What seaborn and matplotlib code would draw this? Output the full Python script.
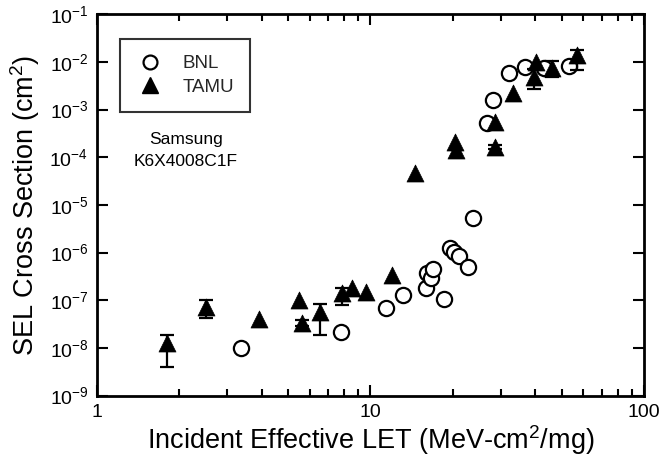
import matplotlib
matplotlib.use("Agg")
import matplotlib.pyplot as plt
from matplotlib.lines import Line2D
from matplotlib.ticker import LogLocator, LogFormatterSciNotation, FixedLocator, FixedFormatter, NullFormatter
import numpy as np
import pandas as pd
import seaborn as sns

# BNL heavy-ion results
bnl_let = [3.37, 7.8, 11.4, 13.2, 15.9, 16.1, 16.6, 17.0, 18.5, 19.5,
           20.2, 21.0, 22.7, 23.8, 26.7, 28.1, 32.0, 36.8, 43.0, 53.0]
bnl_xs = [1.0e-8, 2.1e-8, 6.8e-8, 1.3e-7, 1.8e-7, 3.7e-7, 2.9e-7, 4.5e-7, 1.04e-7, 1.23e-6,
          1.04e-6, 8.5e-7, 4.9e-7, 5.3e-6, 5.2e-4, 1.6e-3, 5.8e-3, 7.9e-3, 7.4e-3, 8.2e-3]

# TAMU heavy-ion results (NaN bounds = no error bar)
tamu_let = [1.81, 2.50, 3.91, 5.47, 5.6, 6.53, 7.9, 8.6, 9.6, 12.0,
            14.6, 20.3, 20.6, 28.6, 28.6, 33.2, 40.4, 39.6, 46.1, 56.7]
tamu_xs = [1.25e-8, 7.1e-8, 4.0e-8, 1.0e-7, 3.3e-8, 5.7e-8, 1.4e-7, 1.78e-7, 1.5e-7, 3.4e-7,
           4.7e-5, 2.1e-4, 1.42e-4, 5.6e-4, 1.66e-4, 2.26e-3, 1.0e-2, 4.9e-3, 7.4e-3, 1.4e-2]
tamu_lo = [4.0e-9, 4.2e-8, np.nan, np.nan, 2.9e-8, 1.9e-8, 7.9e-8, np.nan, np.nan, np.nan,
           np.nan, np.nan, np.nan, np.nan, 1.5e-4, np.nan, np.nan, 2.7e-3, 4.9e-3, 6.8e-3]
tamu_hi = [1.9e-8, 9.95e-8, np.nan, np.nan, 3.8e-8, 8.3e-8, 1.78e-7, np.nan, np.nan, np.nan,
           np.nan, np.nan, np.nan, np.nan, 1.85e-4, np.nan, np.nan, 7.0e-3, 1.05e-2, 1.78e-2]

x_ticks = [1, 10, 100]
x_tick_labels = ["1", "10", "100"]

sns.set_theme(style="ticks")
plt.rcParams["font.family"] = ["Liberation Sans", "DejaVu Sans"]
plt.rcParams["mathtext.fontset"] = "custom"
plt.rcParams["mathtext.rm"] = "Liberation Sans"

fig = plt.figure(figsize=(6.62, 4.67), dpi=100)
ax = fig.add_axes([0.1461, 0.1531, 0.8269, 0.8163])

bnl = pd.DataFrame({"let": bnl_let, "xs": bnl_xs})
tamu = pd.DataFrame({"let": tamu_let, "xs": tamu_xs, "lo": tamu_lo, "hi": tamu_hi})

sns.scatterplot(data=bnl, x="let", y="xs", ax=ax, marker="o", s=120,
                facecolor="white", edgecolor="black", linewidth=1.6, zorder=3)

eb = tamu.dropna()
ax.errorbar(eb["let"], eb["xs"],
            yerr=[eb["xs"] - eb["lo"], eb["hi"] - eb["xs"]],
            fmt="none", ecolor="black", elinewidth=1.6, capsize=5, capthick=1.6, zorder=4)
sns.scatterplot(data=tamu, x="let", y="xs", ax=ax, marker="^", s=150,
                color="black", edgecolor="black", linewidth=0.5, zorder=5)

ax.set_xscale("log")
ax.set_yscale("log")
ax.set_xlim(1, 100)
ax.set_ylim(1e-9, 1e-1)

ax.xaxis.set_major_locator(FixedLocator(x_ticks))
ax.xaxis.set_major_formatter(FixedFormatter(x_tick_labels))
ax.xaxis.set_minor_locator(LogLocator(base=10, subs=np.arange(2, 10), numticks=20))
ax.xaxis.set_minor_formatter(NullFormatter())
ax.yaxis.set_major_locator(LogLocator(base=10, numticks=20))
ax.yaxis.set_major_formatter(LogFormatterSciNotation())
ax.yaxis.set_minor_locator(FixedLocator([]))

ax.tick_params(which="both", direction="in", top=True, right=True, color="black",
               labelsize=14, labelcolor="black")
ax.tick_params(which="major", length=8, width=1.5, pad=6)
ax.tick_params(which="minor", length=5, width=1.5)
for sp in ax.spines.values():
    sp.set_visible(True)
    sp.set_linewidth(2)
    sp.set_color("black")

ax.set_xlabel("Incident Effective LET (MeV-cm$^2$/mg)", fontsize=19.5, labelpad=2, color="black")
ax.set_ylabel("SEL Cross Section (cm$^2$)", fontsize=19.5, labelpad=5, color="black")

ax.text(0.163, 0.642, "Samsung\nK6X4008C1F", transform=ax.transAxes,
        ha="center", va="center", fontsize=12.5, linespacing=1.6, color="black")

handles = [
    Line2D([], [], linestyle="none", marker="o", markersize=10, markerfacecolor="white",
           markeredgecolor="black", markeredgewidth=1.6),
    Line2D([], [], linestyle="none", marker="^", markersize=11, markerfacecolor="black",
           markeredgecolor="black"),
]
leg = ax.legend(handles, ["BNL", "TAMU"], loc="upper left", bbox_to_anchor=(0.0426, 0.935),
                borderaxespad=0, frameon=True, fancybox=False, fontsize=13.5,
                handletextpad=1.0, borderpad=0.85, labelspacing=0.35, handlelength=1.5)
leg.get_frame().set_edgecolor("black")
leg.get_frame().set_linewidth(1.5)

fig.savefig("out.png", dpi=100)
